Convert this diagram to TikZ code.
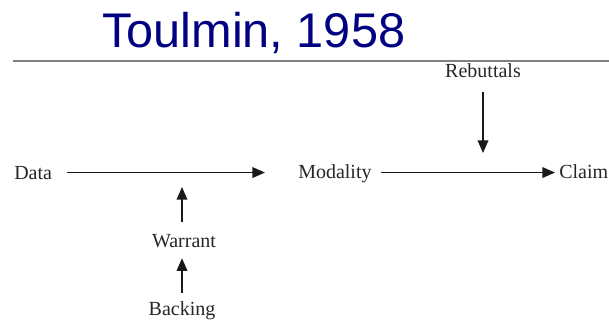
\documentclass[tikz,border=0pt]{standalone}
\usepackage{fontspec}
\setmainfont{Liberation Serif}
\newfontfamily\titlefont{Liberation Sans}
\usetikzlibrary{arrows.meta, positioning}
\definecolor{titleblue}{RGB}{0,0,128}

\begin{document}
\begin{tikzpicture}[x=0.75pt, y=-0.75pt,
            term/.style={inner sep=0pt, font=\fontsize{15}{17}\selectfont, text=black!85},
            arrow/.style={-{Triangle[length=9.5pt, width=8pt]}, line width=1.1pt, black!90}
        ]
        \useasboundingbox (0,0) rectangle (609,322);
        \clip (0,0) rectangle (609,322);

        % title and rule
        \node[anchor=base west, inner sep=0pt, font=\titlefont\fontsize{36.5}{40}\selectfont, text=titleblue] (title) at (102,47) {Toulmin, 1958};
        \coordinate (ruleL) at (13,61);
        \coordinate (ruleR) at (609,61);
        \draw[gray, line width=1.5pt] (ruleL) -- (ruleR);

        % main line
        \node[term, anchor=base west] (data) at (14,179) {Data};
        \node[term, anchor=base west] (modality) at (298,178) {Modality};
        \node[term, anchor=base west] (claim) at (559,178) {Claim};

        \node[term, anchor=base] (rebuttals) at (483,77) {Rebuttals};
        \node[term, anchor=base] (warrant) at (184,247) {Warrant};
        \node[term, anchor=base] (backing) at (182,315) {Backing};

        \coordinate (rebTip) at (483,153);
        \coordinate (warTip) at (182,187);

        \draw[arrow, shorten <=11pt, shorten >=24.75pt] (data.east) -- (data.east -| modality.west);
        \draw[arrow, shorten <=7pt, shorten >=3pt] (modality.east |- data.east) -- (claim.west |- data.east);
        \draw[arrow, shorten <=11pt] (rebuttals.south) -- (rebTip);
        \draw[arrow, shorten <=9pt] (warrant.north -| warTip) -- (warTip);
        \draw[arrow, shorten <=6pt, shorten >=8pt] (backing.north -| warTip) -- (warrant.south -| warTip);

\end{tikzpicture}
\end{document}
